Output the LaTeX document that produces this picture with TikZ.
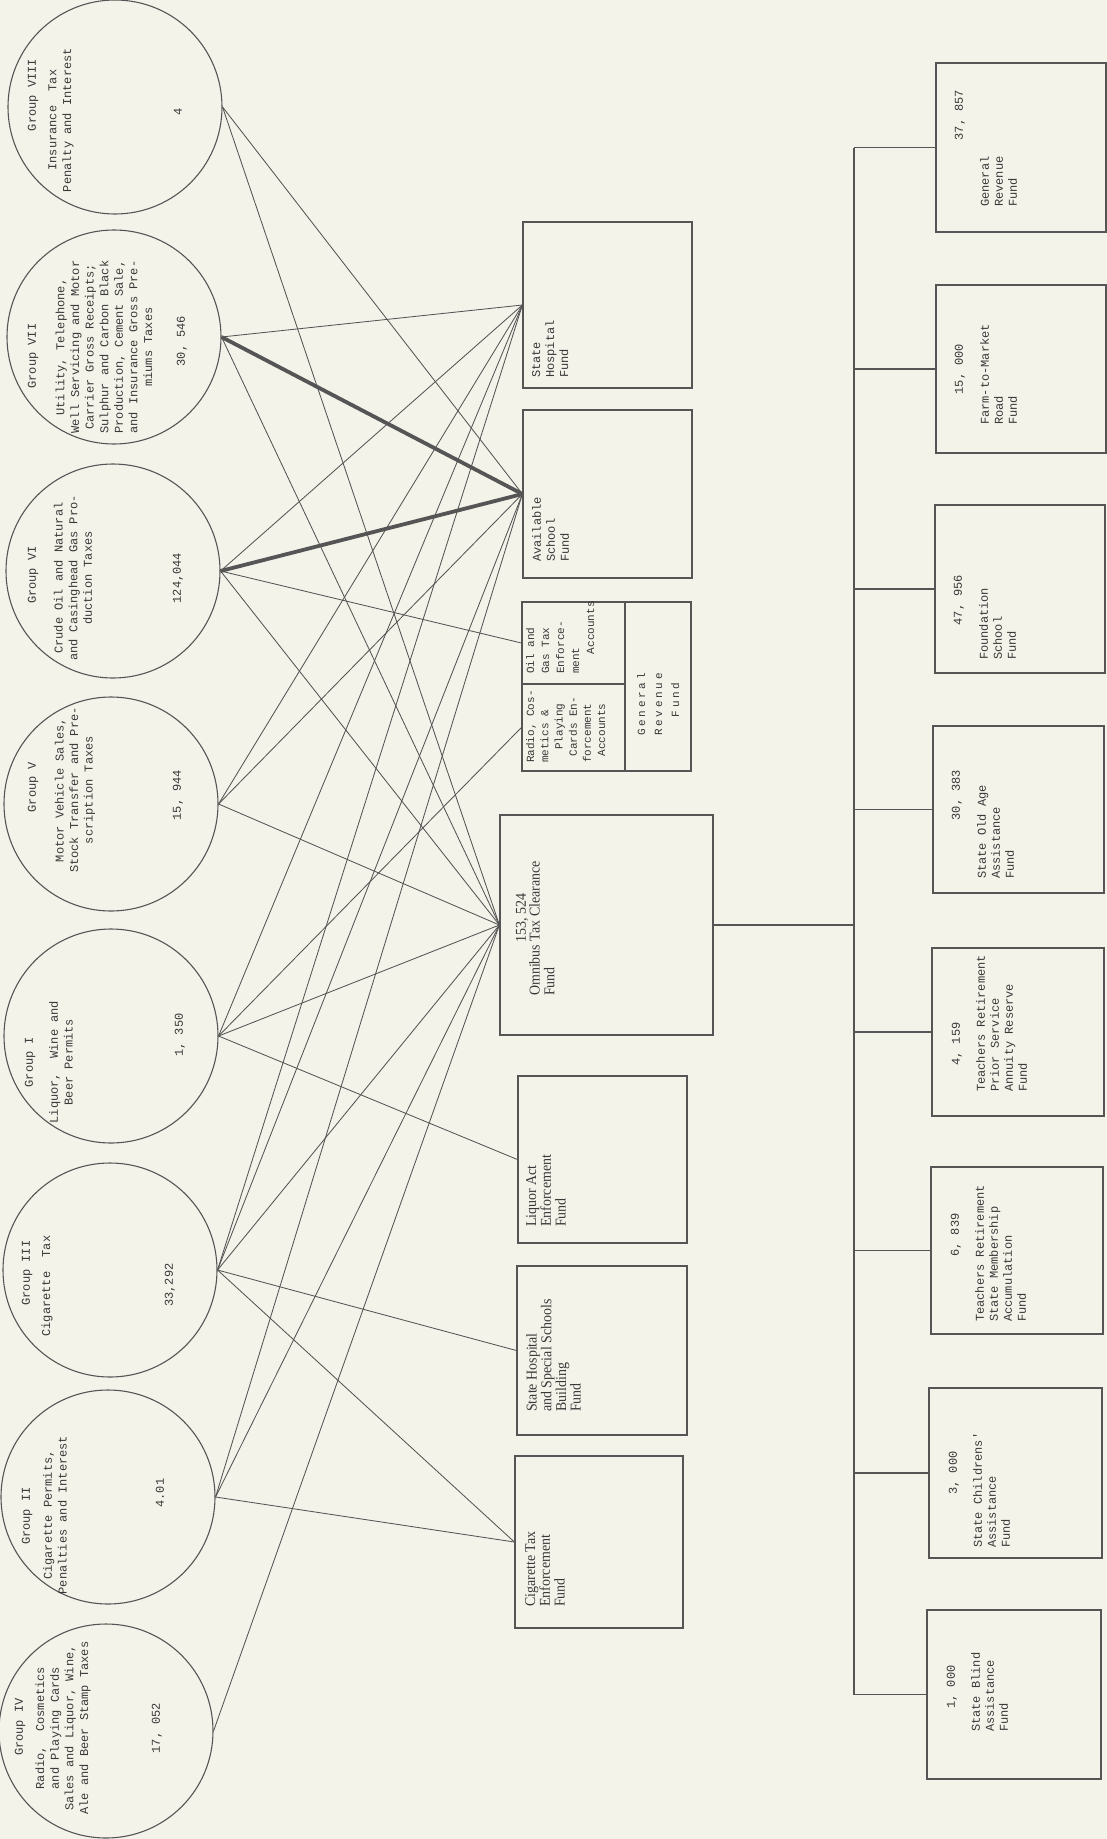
\documentclass[tikz,border=0pt]{standalone}
\usepackage{fontspec}
\setmainfont{Liberation Serif}
\newfontfamily\tw{Liberation Mono}
\newfontfamily\twls[LetterSpace=25]{Liberation Mono}
\newfontfamily\cf[FakeStretch=0.93]{Liberation Serif}
\usetikzlibrary{fit}
\definecolor{paper}{HTML}{F4F3EA}
\definecolor{ink}{HTML}{383838}
\definecolor{wire}{HTML}{555555}
\begin{document}
\begin{tikzpicture}[x=1pt,y=-1pt,
  circ/.style={draw=wire, line width=1.1pt, circle, minimum size=214pt, inner sep=0pt},
  fbox/.style={draw=wire, line width=1.2pt, inner sep=0pt},
  ct/.style={rotate=90, align=center, inner sep=0pt, text=ink, font=\tw\fontsize{12}{14.6}\selectfont},
  vt/.style={rotate=90, anchor=north west, align=left, inner sep=0pt, text=ink, font=\tw\fontsize{12}{14}\selectfont},
  cv/.style={rotate=90, anchor=north west, align=left, inner sep=0pt, text=ink, font=\cf\fontsize{15}{14.7}\selectfont},
  num/.style={rotate=90, inner sep=0pt, text=ink, font=\tw\fontsize{12}{14}\selectfont},
  wl/.style={draw=wire, line width=0.85pt},
  wthick/.style={draw=wire, line width=3.8pt},
  bus/.style={draw=wire, line width=1.2pt}]
\fill[paper] (0,0) rectangle (1107,1839);
\useasboundingbox (0,0) rectangle (1107,1839);

% ---------- circles ----------
\node[circ] (g8) at (115,107) {};
\node[circ] (g7) at (114,337) {};
\node[circ] (g6) at (113,571) {};
\node[circ] (g5) at (111,804) {};
\node[circ] (g1) at (111,1036) {};
\node[circ] (g3) at (110,1270) {};
\node[circ] (g2) at (108,1497) {};
\node[circ] (g4) at (106,1731) {};

% circle texts
\node[ct] (t8a) at (33,95) {Group VIII};
\node[ct] (t8b) at (61,120) {Insurance\ \ Tax\\Penalty and Interest};
\node[num] (t8c) at (178,112) {4};

\node[ct] (t7a) at (33,356) {Group VII};
\node[ct] (t7b) at (104,347) {Utility, Telephone,\\Well Servicing and Motor\\Carrier Gross Receipts;\\Sulphur and Carbon Black\\Production, Cement Sale,\\and Insurance Gross Pre-\\miums Taxes};
\node[num] (t7c) at (182,341) {30, 546};

\node[ct] (t6a) at (33,575) {Group VI};
\node[ct] (t6b) at (73,578) {Crude Oil and Natural\\and Casinghead Gas Pro-\\duction Taxes};
\node[num] (t6c) at (178,578) {124,044};

\node[ct] (t5a) at (33,787) {Group V};
\node[ct] (t5b) at (75,790) {Motor Vehicle Sales,\\Stock Transfer and Pre-\\scription Taxes};
\node[num] (t5c) at (178,795) {15, 944};

\node[ct] (t1a) at (30,1062) {Group I};
\node[ct] (t1b) at (61,1062) {Liquor,\ \ Wine and\\Beer Permits};
\node[num] (t1c) at (180,1035) {1, 350};

\node[ct] (t3a) at (27,1273) {Group III};
\node[ct] (t3b) at (47,1286) {Cigarette\hspace{1.2em}Tax};
\node[num] (t3c) at (170,1285) {33,292};

\node[ct] (t2a) at (27,1516) {Group II};
\node[ct] (t2b) at (55,1515) {Cigarette Permits,\\Penalties and Interest};
\node[num] (t2c) at (160,1493) {4.01};

\node[ct] (t4a) at (20,1727) {Group IV};
\node[ct] (t4b) at (63,1728) {Radio,\ \ Cosmetics\\and Playing Cards\\Sales and Liquor, Wine,\\Ale and Beer Stamp Taxes};
\node[num] (t4c) at (157,1728) {17, 052};

% ---------- middle column ----------
\node[fbox, fit={(523,222) (692,388)}] (sh) {};
\node[vt] (tsh) at (532,378) {State\\Hospital\\Fund};

\node[fbox, fit={(523,410) (692,578)}] (as) {};
\node[vt] (tas) at (532,562) {Available\\School\\Fund};

\node[fbox, fit={(522,602) (625,684)}] (oil) {};
\node[fbox, fit={(522,684) (625,771)}] (rad) {};
\node[fbox, fit={(625,602) (691,771)}] (grc) {};
\node[vt, font=\tw\fontsize{11}{15}\selectfont] (toil) at (526,674) {Oil and\\Gas Tax\\Enforce-\\ment\\\ \ \ Accounts};
\node[vt, font=\tw\fontsize{11}{14.2}\selectfont] (trad) at (526,763) {Radio, Cos-\\metics \&\\\ \ Playing\\\ Cards En-\\forcement\\\ Accounts};
\node[vt, font=\twls\fontsize{11}{17}\selectfont] (tgrc) at (637,736) {General\\Revenue\\\ \ Fund};

\node[fbox, fit={(500,815) (713,1035)}] (om) {};
\node[num, font=\cf\fontsize{15}{14.7}\selectfont] (tomn) at (522,918) {153, 524};
\node[cv] (tom) at (529,996) {Omnibus Tax Clearance\\Fund};

\node[fbox, fit={(518,1076) (687,1243)}] (la) {};
\node[cv] (tla) at (526,1227) {Liquor Act\\Enforcement\\Fund};

\node[fbox, fit={(517,1266) (687,1435)}] (ss) {};
\node[cv] (tss) at (526,1412) {State Hospital\\and Special Schools\\Building\\Fund};

\node[fbox, fit={(515,1456) (683,1628)}] (ctf) {};
\node[cv] (tct) at (525,1607) {Cigarette Tax\\Enforcement\\Fund};

% ---------- connectors circles -> funds ----------
\draw[wl] (g8.east) -- (as.west);
\draw[wl] (g8.east) -- (om.west);

\draw[wl] (g7.east) -- (sh.west);
\draw[wthick] (g7.east) -- (as.west);
\draw[wl] (g7.east) -- (om.west);

\draw[wl] (g6.east) -- (sh.west);
\draw[wthick] (g6.east) -- (as.west);
\draw[wl] (g6.east) -- (oil.west);
\draw[wl] (g6.east) -- (om.west);

\draw[wl] (g5.east) -- (sh.west);
\draw[wl] (g5.east) -- (as.west);
\draw[wl] (g5.east) -- (om.west);

\draw[wl] (g1.east) -- (sh.west);
\draw[wl] (g1.east) -- (rad.west);
\draw[wl] (g1.east) -- (om.west);
\draw[wl] (g1.east) -- (la.west);

\draw[wl] (g3.east) -- (sh.west);
\draw[wl] (g3.east) -- (as.west);
\draw[wl] (g3.east) -- (om.west);
\draw[wl] (g3.east) -- (ss.west);
\draw[wl] (g3.east) -- (ctf.west);

\draw[wl] (g2.east) -- (as.west);
\draw[wl] (g2.east) -- (om.west);
\draw[wl] (g2.east) -- (ctf.west);

\draw[wl] (g4.east) -- (om.west);

% ---------- bottom row of funds ----------
\node[fbox, fit={(936,63) (1106,232)}] (b1) {};
\node[num] (n1) at (960,115) {37, 857};
\node[vt] (d1) at (980,207) {General\\Revenue\\Fund};

\node[fbox, fit={(936,285) (1106,453)}] (b2) {};
\node[num] (n2) at (960,369) {15, 000};
\node[vt] (d2) at (980,425) {Farm-to-Market\\Road\\Fund};

\node[fbox, fit={(935,505) (1105,673)}] (b3) {};
\node[num] (n3) at (959,600) {47, 956};
\node[vt] (d3) at (979,660) {Foundation\\School\\Fund};

\node[fbox, fit={(933,726) (1104,893)}] (b4) {};
\node[num] (n4) at (957,795) {30, 383};
\node[vt] (d4) at (977,879) {State Old Age\\Assistance\\Fund};

\node[fbox, fit={(932,948) (1104,1116)}] (b5) {};
\node[num] (n5) at (957,1044) {4, 159};
\node[vt] (d5) at (976,1092) {Teachers Retirement\\Prior Service\\Annuity Reserve\\Fund};

\node[fbox, fit={(931,1167) (1103,1334)}] (b6) {};
\node[num] (n6) at (956,1235) {6, 839};
\node[vt] (d6) at (975,1322) {Teachers Retirement\\State Membership\\Accumulation\\Fund};

\node[fbox, fit={(929,1388) (1102,1558)}] (b7) {};
\node[num] (n7) at (954,1473) {3, 000};
\node[vt] (d7) at (973,1548) {State Childrens'\\Assistance\\Fund};

\node[fbox, fit={(927,1610) (1101,1779)}] (b8) {};
\node[num] (n8) at (952,1687) {1, 000};
\node[vt] (d8) at (971,1732) {State Blind\\Assistance\\Fund};

% ---------- distribution bus ----------
\coordinate (bt) at (854,147.5);
\coordinate (bb) at (854,1694.5);
\draw[bus] (bt) -- (bb);
\draw[bus] (om.east) -- (om.east -| bt);
\foreach \b in {b1,b2,b3,b4,b5,b6,b7,b8}
  \draw[bus] (\b.west) -- (\b.west -| bt);
\end{tikzpicture}
\end{document}
